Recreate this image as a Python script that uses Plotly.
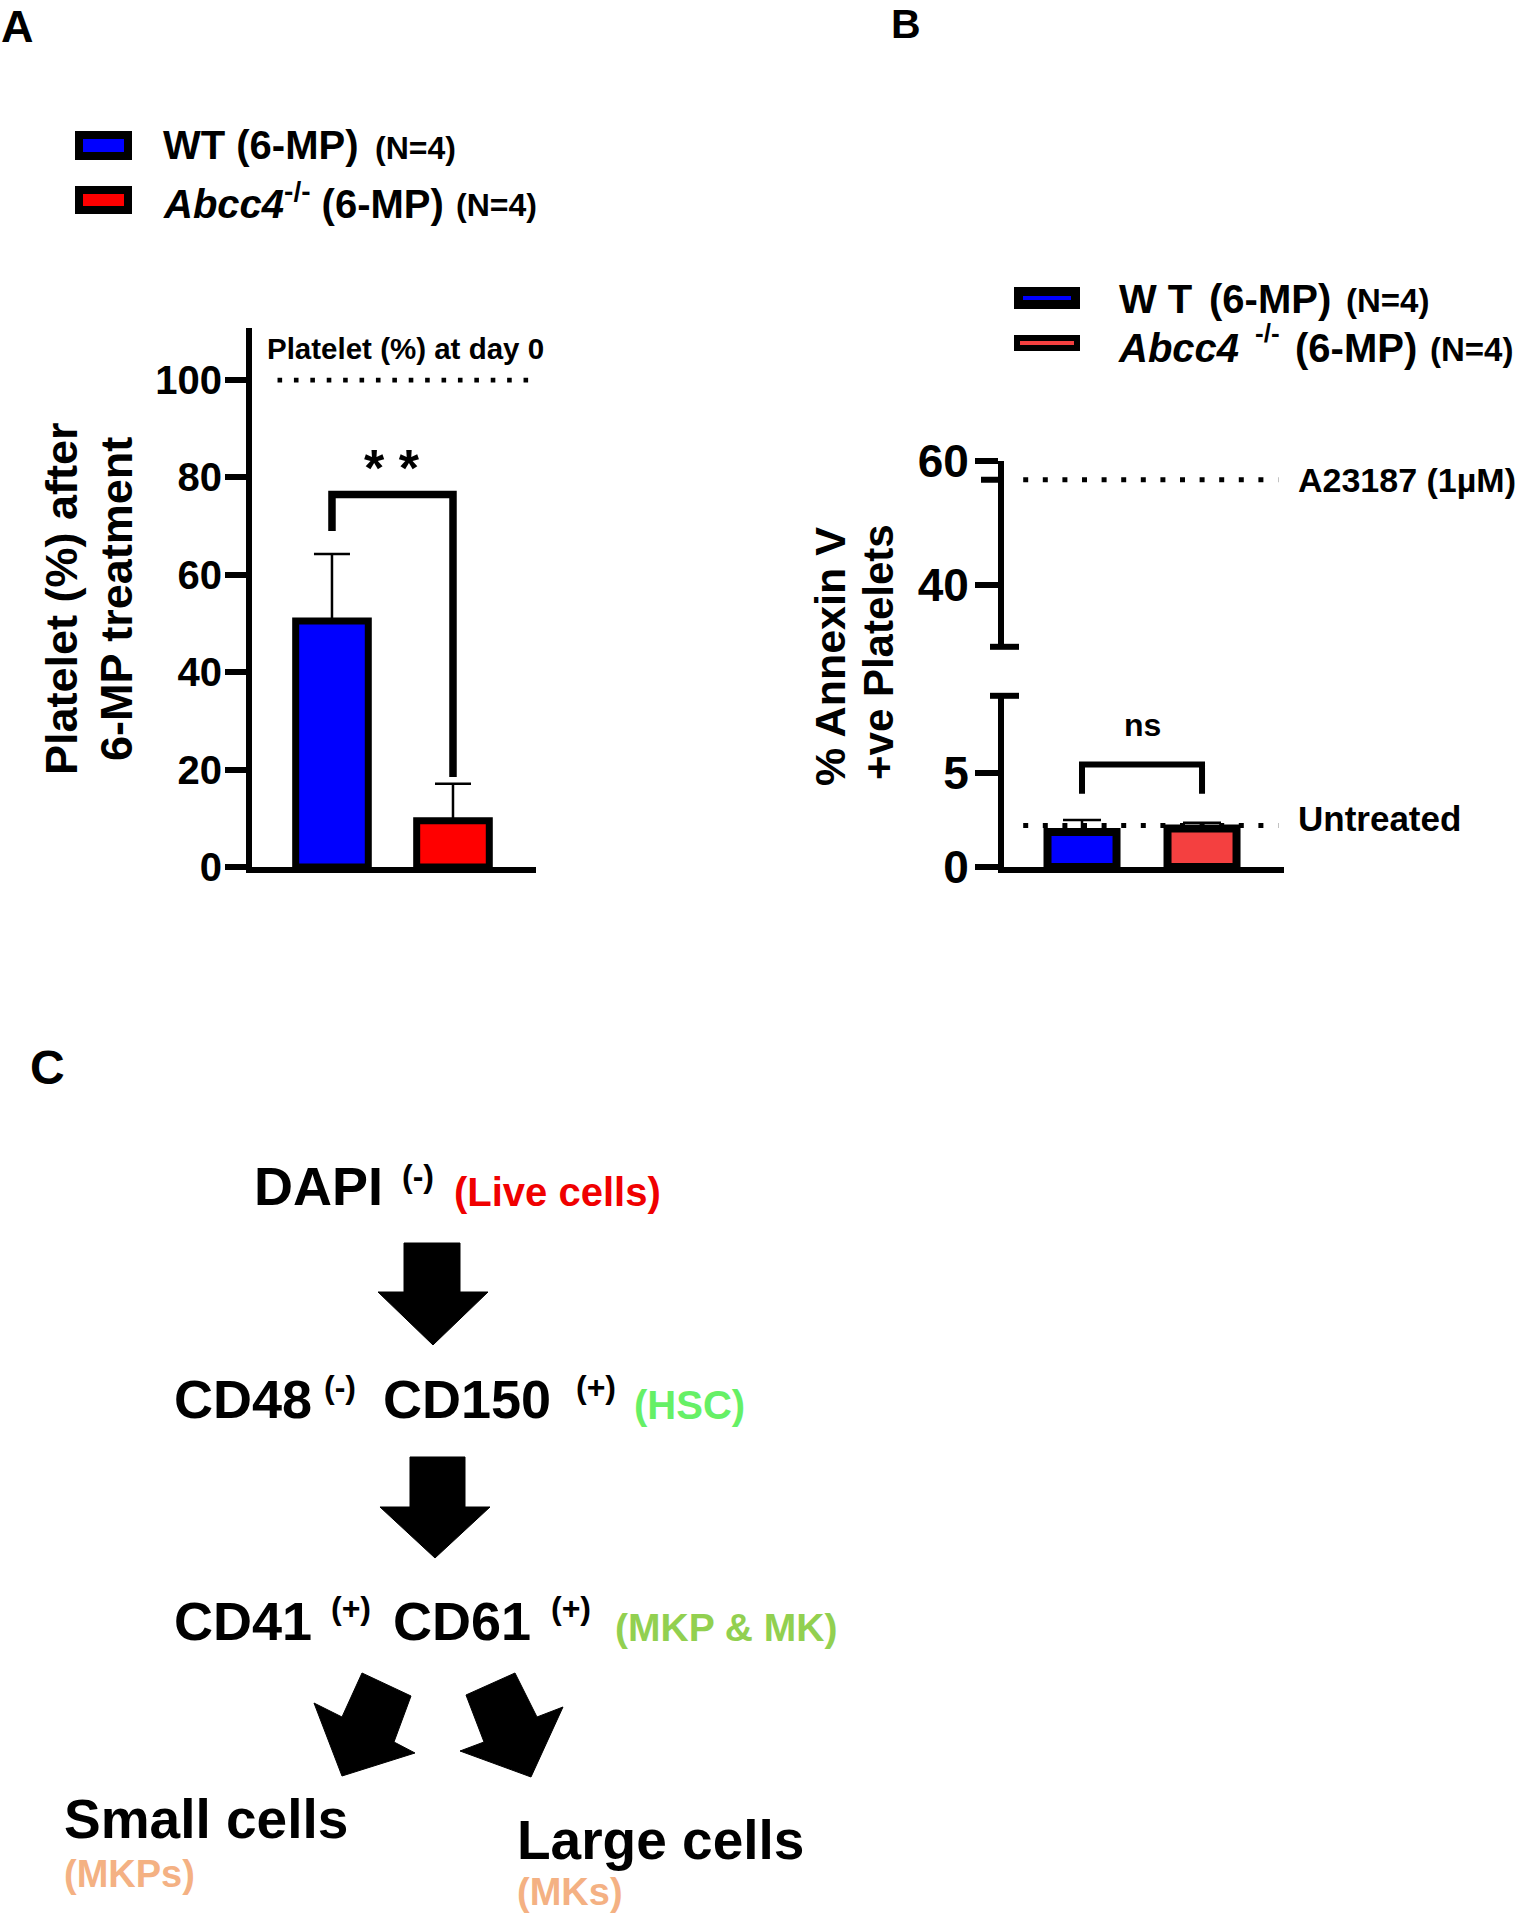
import plotly.graph_objects as go

# ---------------- data ----------------
groups = ["WT (6-MP)", "Abcc4-/- (6-MP)"]
platelet_mean = [50.5, 9.5]          # Panel A: platelet (%) after 6-MP
platelet_sd = [13.8, 7.6]
annexin_mean = [1.86, 2.05]          # Panel B: % Annexin V +ve platelets
annexin_sd = [0.64, 0.30]
colors_a = ["#0000FF", "#FF0000"]
colors_b = ["#0000FF", "#F44040"]

yticks_a = [0, 20, 40, 60, 80, 100]
yticks_b_low = [0, 5]
yticks_b_up = [40, 60]
extra_tick_b_up = 56.9

day0_level = 100                     # Platelet (%) at day 0
a23187_level = 56.9                  # A23187 (1 µM)
untreated_level = 2.2                # Untreated
bracket_a = [69, 76.5, 18.5]         # left leg, top, right leg
bracket_b = [3.9, 5.45, 3.9]

# ---------------- helpers ----------------
W, H = 1525, 1920
FONT = "Liberation Sans, Arial, Helvetica, sans-serif"


def PX(x):
    return x / W


def PY(y):
    return 1 - y / H


fig = go.Figure()
xpos = list(range(len(groups)))

# Panel A bars
fig.add_trace(go.Bar(
    x=xpos, y=platelet_mean, width=0.6, xaxis="x", yaxis="y",
    marker=dict(color=colors_a, line=dict(color="black", width=7)),
    error_y=dict(type="data", array=platelet_sd, arrayminus=[0] * len(groups),
                 symmetric=False, color="black", thickness=2.5, width=18),
    hoverinfo="skip"))
fig.add_trace(go.Scatter(
    x=[xpos[0], xpos[0], xpos[1], xpos[1]],
    y=[bracket_a[0], bracket_a[1], bracket_a[1], bracket_a[2]],
    mode="lines", line=dict(color="black", width=7.5), xaxis="x", yaxis="y",
    hoverinfo="skip"))
fig.add_trace(go.Scatter(
    x=[-0.45, 1.72], y=[day0_level, day0_level], mode="lines",
    line=dict(color="black", width=4.6, dash="4.6px,11.8px"),
    xaxis="x", yaxis="y", hoverinfo="skip"))

# Panel B bars (lower part of broken axis)
fig.add_trace(go.Bar(
    x=xpos, y=annexin_mean, width=0.575, xaxis="x2", yaxis="y2",
    marker=dict(color=colors_b, line=dict(color="black", width=8)),
    error_y=dict(type="data", array=annexin_sd, arrayminus=[0] * len(groups),
                 symmetric=False, color="black", thickness=2.5, width=19),
    hoverinfo="skip"))
fig.add_trace(go.Scatter(
    x=[xpos[0], xpos[0], xpos[1], xpos[1]],
    y=[bracket_b[0], bracket_b[1], bracket_b[1], bracket_b[2]],
    mode="lines", line=dict(color="black", width=6), xaxis="x2", yaxis="y2",
    hoverinfo="skip"))
fig.add_trace(go.Scatter(
    x=[-0.49, 1.635], y=[untreated_level, untreated_level], mode="lines",
    line=dict(color="black", width=5, dash="5px,14.6px"),
    xaxis="x2", yaxis="y2", hoverinfo="skip"))
fig.add_trace(go.Scatter(
    x=[-0.49, 1.635], y=[a23187_level, a23187_level], mode="lines",
    line=dict(color="black", width=5, dash="5px,14.6px"),
    xaxis="x2", yaxis="y3", hoverinfo="skip"))

axis_common = dict(showline=True, linecolor="black", showgrid=False,
                   zeroline=False, fixedrange=True, automargin=False)

fig.update_layout(
    template="none",
    width=W, height=H, autosize=False,
    margin=dict(l=0, r=0, t=0, b=0, pad=0, autoexpand=False),
    paper_bgcolor="white", plot_bgcolor="white", showlegend=False,
    font=dict(family=FONT, color="black"),
    xaxis=dict(domain=[PX(252), PX(536)], range=[-0.661, 1.686], anchor="y",
               linewidth=6, showticklabels=False, ticks="", **axis_common),
    yaxis=dict(domain=[PY(867), PY(328)], range=[0, 110.7], anchor="x",
               linewidth=6, ticks="outside", ticklen=21, tickwidth=6,
               tickcolor="black", tickvals=yticks_a, ticklabelstandoff=-5,
               tickfont=dict(family=FONT, size=40, color="black", weight="bold"),
               **axis_common),
    xaxis2=dict(domain=[PX(1004), PX(1284)], range=[-0.65, 1.683], anchor="y2",
                linewidth=6, showticklabels=False, ticks="", **axis_common),
    yaxis2=dict(domain=[PY(867), PY(695.8)], range=[0, 9.1], anchor="x2",
                linewidth=6, ticks="outside", ticklen=23, tickwidth=6,
                tickcolor="black", tickvals=yticks_b_low, ticklabelstandoff=-3,
                tickfont=dict(family=FONT, size=46, color="black", weight="bold"),
                **axis_common),
    yaxis3=dict(domain=[PY(646.8), PY(460.6)], range=[30, 60], anchor="x2",
                linewidth=6, ticks="outside", ticklen=23, tickwidth=6,
                tickcolor="black", tickvals=yticks_b_up, ticklabelstandoff=-3,
                tickfont=dict(family=FONT, size=46, color="black", weight="bold"),
                **axis_common),
)


def T(text, x, y, size, color="black", xanchor="left", yanchor="middle",
      angle=0, bold=True, italic=False, xref="paper", yref="paper"):
    fig.add_annotation(
        text=text, x=PX(x) if xref == "paper" else x,
        y=PY(y) if yref == "paper" else y, xref=xref, yref=yref,
        xanchor=xanchor, yanchor=yanchor, showarrow=False, textangle=angle,
        borderpad=0,
        font=dict(family=FONT, size=size, color=color,
                  weight="bold" if bold else "normal",
                  style="italic" if italic else "normal"))


# panel labels
T("A", 0, 0, 45, yanchor="top")
T("B", 890, 0, 41, yanchor="top")
T("C", 29, 1067, 48)

# ---------- Panel A texts ----------
T("Platelet (%) after", 61, 599, 45, xanchor="center", angle=-90)
T("6-MP treatment", 116, 599, 45, xanchor="center", angle=-90)
T("Platelet (%) at day 0", 266, 348, 29.5)
T("* *", 0.5, 82.0, 52, xanchor="center", xref="x", yref="y")

# legend A
fig.add_shape(type="rect", xref="paper", yref="paper",
              x0=PX(79), x1=PX(128), y0=PY(135), y1=PY(156),
              fillcolor=colors_a[0], line=dict(color="black", width=8))
fig.add_shape(type="rect", xref="paper", yref="paper",
              x0=PX(79), x1=PX(128), y0=PY(190), y1=PY(210),
              fillcolor=colors_a[1], line=dict(color="black", width=8))
T("WT (6-MP)", 162, 145, 40)
T("(N=4)", 374, 148, 32)
T("<i>Abcc4</i><sup>-/-</sup> (6-MP)", 162, 201, 40)
T("(N=4)", 455, 205, 32)

# ---------- Panel B texts ----------
T("% Annexin V", 830, 657, 43, xanchor="center", angle=-90)
T("+ve Platelets", 878, 652, 42, xanchor="center", angle=-90)
T("ns", 0.5, 7.55, 32, xanchor="center", xref="x2", yref="y2")
T("A23187 (1\u00b5M)", 1297, 480, 34)
T("Untreated", 1297, 819, 35)

# legend B
fig.add_shape(type="rect", xref="paper", yref="paper",
              x0=PX(1018.5), x1=PX(1075.5), y0=PY(291.5), y1=PY(304.5),
              fillcolor=colors_b[0], line=dict(color="black", width=9))
fig.add_shape(type="rect", xref="paper", yref="paper",
              x0=PX(1017), x1=PX(1077), y0=PY(338), y1=PY(348),
              fillcolor=colors_b[1], line=dict(color="black", width=6))
T("W T", 1118, 299, 40)
T("(6-MP)", 1208, 299, 40)
T("(N=4)", 1345, 301, 33)
T("<i>Abcc4</i>", 1117, 348, 40)
T("-/-", 1254, 333, 26)
T("(6-MP)", 1294, 348, 40)
T("(N=4)", 1429, 350, 33)

# extra tick on upper B axis and break marks
fig.add_shape(type="line", xref="paper", yref="y3",
              x0=PX(981), x1=PX(1004), y0=extra_tick_b_up, y1=extra_tick_b_up,
              line=dict(color="black", width=6))
for yb in (646.8, 695.8):
    fig.add_shape(type="line", xref="paper", yref="paper",
                  x0=PX(990), x1=PX(1019), y0=PY(yb), y1=PY(yb),
                  line=dict(color="black", width=6))

# ---------- Panel C (flow diagram) ----------
T("DAPI", 253, 1186, 54)
T("(-)", 401, 1176, 32)
T("(Live cells)", 453, 1192, 40, color="#F00000")

T("CD48", 173, 1399, 54)
T("(-)", 323, 1387, 32)
T("CD150", 382, 1399, 54)
T("(+)", 575, 1387, 32)
T("(HSC)", 633, 1405, 40, color="#66F066")

T("CD41", 173, 1621, 54)
T("(+)", 330, 1608, 32)
T("CD61", 392, 1621, 54)
T("(+)", 550, 1608, 32)
T("(MKP & MK)", 614, 1627, 39, color="#92D050")

T("Small cells", 63, 1819, 55)
T("(MKPs)", 63, 1874, 38, color="#F4B183")
T("Large cells", 516, 1840, 55)
T("(MKs)", 516, 1892, 38, color="#F4B183")

arrows = [
    [(404, 1243), (460, 1243), (460, 1292), (488, 1292), (433, 1345), (378, 1292), (404, 1292)],
    [(410, 1457), (465, 1457), (465, 1507), (490, 1507), (435, 1558), (380, 1507), (410, 1507)],
    [(362, 1673), (411, 1696), (394, 1742), (415, 1753), (342, 1776), (314, 1703), (342, 1717)],
    [(515, 1673), (466, 1695), (484, 1742), (460, 1751), (531, 1777), (563, 1707), (537, 1717)],
]
for pts in arrows:
    path = "M " + " L ".join(f"{PX(x):.5f},{PY(y):.5f}" for x, y in pts) + " Z"
    fig.add_shape(type="path", xref="paper", yref="paper", path=path,
                  fillcolor="black", line=dict(color="black", width=1))

fig.write_html("out.html",
               config={"displayModeBar": False, "staticPlot": True},
               post_script="document.body.style.margin='0px';"
                           "document.body.style.padding='0px';")
